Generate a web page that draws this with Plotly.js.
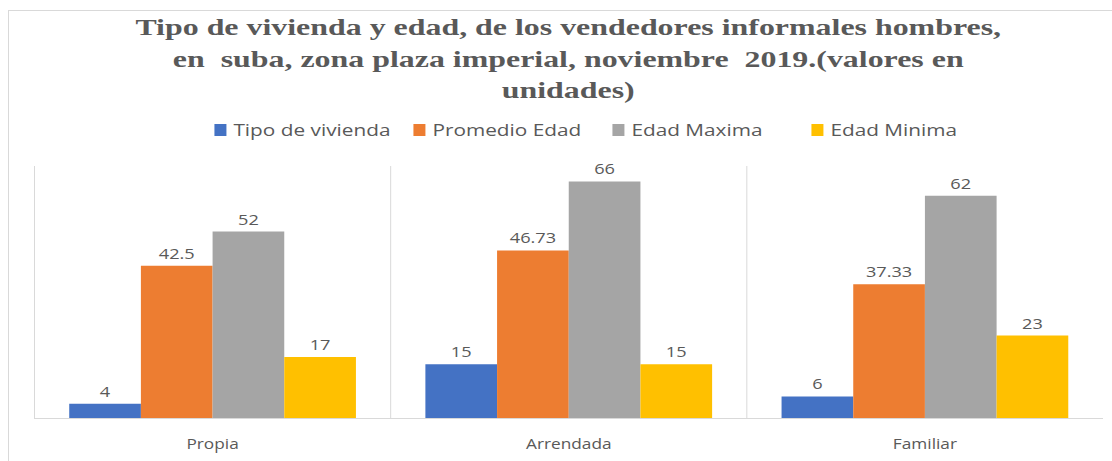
<!DOCTYPE html>
<html>
<head>
<meta charset="utf-8">
<script src="https://cdn.plot.ly/plotly-3.0.1.min.js"></script>
<style>
  html, body { margin: 0; padding: 0; background: #fff; }
  #wrap { position: relative; width: 1112px; height: 461px; overflow: hidden; }
  #chart { position: absolute; left: 0; top: 0; width: 1112px; height: 461px; }
  #frame { position: absolute; left: 8px; top: 10px; width: 1110px; height: 460px;
           border-left: 1px solid #d9d9d9; border-top: 1px solid #d9d9d9; pointer-events: none; }
</style>
</head>
<body>
<div id="wrap">
  <div id="chart"></div>
  <div id="frame"></div>
</div>
<script>
const categories = ["Propia", "Arrendada", "Familiar"];
const seriesNames = ["Tipo de vivienda", "Promedio Edad", "Edad Maxima", "Edad Minima"];
const tipoVivienda = [4, 15, 6];
const promedioEdad = [42.5, 46.73, 37.33];
const edadMaxima = [52, 66, 62];
const edadMinima = [17, 15, 23];
const seriesColors = ["#4472C4", "#ED7D31", "#A5A5A5", "#FFC000"];

const seriesValues = [tipoVivienda, promedioEdad, edadMaxima, edadMinima];

const traces = seriesValues.map((vals, i) => ({
  type: "bar",
  name: seriesNames[i],
  x: categories,
  y: vals,
  marker: { color: seriesColors[i] },
  text: vals.map(v => String(v)),
  textposition: "outside",
  cliponaxis: false,
  textfont: { family: "Open Sans, sans-serif", size: 14, color: "#595959" },
  hoverinfo: "x+y+name"
}));

// category boundary separators (excluding the right edge)
const shapes = [];
for (let i = 0; i < categories.length; i++) {
  shapes.push({
    type: "line", xref: "x", yref: "paper",
    x0: i - 0.5, x1: i - 0.5, y0: 0, y1: 1,
    line: { color: "#d9d9d9", width: 1 }, layer: "below"
  });
}

const layout = {
  width: 1112, height: 461,
  paper_bgcolor: "#ffffff", plot_bgcolor: "#ffffff",
  margin: { l: 34, r: 9, t: 166, b: 43 },
  title: {
    text: "Tipo de vivienda y edad, de los vendedores informales hombres,<br>en  suba, zona plaza imperial, noviembre  2019.(valores en<br>unidades)",
    font: { family: "Liberation Serif, Times New Roman, serif", size: 24, color: "#595959", weight: "bold" },
    x: 0.511, xanchor: "center", y: 0.923, yanchor: "top"
  },
  barmode: "group",
  bargap: 0.195,
  bargroupgap: 0,
  showlegend: true,
  legend: {
    orientation: "h", x: 0.528, xanchor: "center", y: 1.142, yanchor: "middle",
    font: { family: "Open Sans, sans-serif", size: 16, color: "#595959" },
    traceorder: "normal",
    entrywidth: 154, entrywidthmode: "pixels"
  },
  xaxis: {
    type: "category",
    showgrid: false, zeroline: false,
    showline: true, linecolor: "#d9d9d9", linewidth: 1,
    ticks: "", ticklabelstandoff: 12,
    tickfont: { family: "Open Sans, sans-serif", size: 15, color: "#595959" },
    fixedrange: true
  },
  yaxis: {
    range: [0, 70.3],
    showgrid: false, zeroline: false, showline: false, showticklabels: false, ticks: "",
    fixedrange: true
  },
  shapes: shapes,
  font: { family: "Open Sans, sans-serif", color: "#595959" }
};

function stretch(el, s, anchor, dx) {
  const bb = el.getBBox();
  const ax = anchor === "left" ? bb.x : bb.x + bb.width / 2;
  const prev = el.getAttribute("transform") || "";
  el.setAttribute("transform",
    prev + ` translate(${ax + (dx || 0)} 0) scale(${s} 1) translate(${-ax} 0)`);
}

Plotly.newPlot("chart", traces, layout, { displayModeBar: false, staticPlot: true }).then(() => {
  const t = document.querySelector(".gtitle");
  if (t) {
    const bb = t.getBBox();
    stretch(t, 866 / bb.width, "center");
  }
  document.querySelectorAll(".legendtext").forEach(el => stretch(el, 1.3, "left", -7));
  document.querySelectorAll(".xtick text").forEach(el => stretch(el, 1.15, "center"));
  document.querySelectorAll("text.bartext").forEach(el => stretch(el, 1.3, "center"));
});
</script>
</body>
</html>
